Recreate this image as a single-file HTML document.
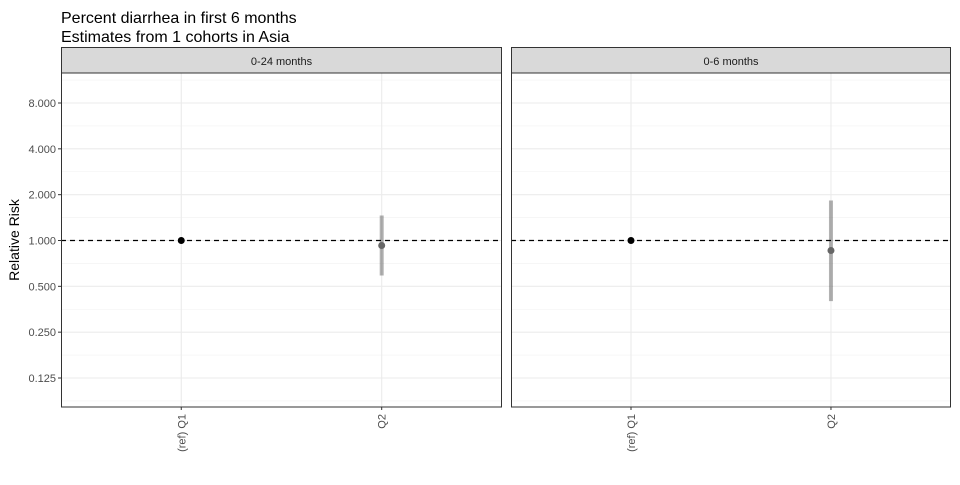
<!DOCTYPE html>
<html><head><meta charset="utf-8"><style>
body{margin:0;background:#fff;font-family:"Liberation Sans",sans-serif;}
svg text{font-family:"Liberation Sans",sans-serif;}
</style></head><body>
<svg id="c" width="960" height="480" xmlns="http://www.w3.org/2000/svg">
<text x="61" y="23" font-size="16">Percent diarrhea in first 6 months</text>
<text x="61" y="42" font-size="16">Estimates from 1 cohorts in Asia</text>
<text transform="translate(19,240) rotate(-90)" text-anchor="middle" font-size="14">Relative Risk</text>
</svg>
<script>
const panels=["0-24 months","0-6 months"];
const categories=["(ref) Q1","Q2"];
const estimates=[[1,0.927],[1,0.86]];
const lower=[[1,0.589],[1,0.40]];
const upper=[[1,1.46],[1,1.83]];
const yTicks=[0.125,0.25,0.5,1,2,4,8];
const yTickLabels=["0.125","0.250","0.500","1.000","2.000","4.000","8.000"];

const svg=document.getElementById('c');
const NS="http://www.w3.org/2000/svg";
function mk(t,a,p){const e=document.createElementNS(NS,t);for(const k in a)e.setAttribute(k,a[k]);(p||svg).appendChild(e);return e;}
const plotTop=73,plotBot=407;
function y(v){return 240.5-Math.log2(v)*45.83;}
const px=[[61,502],[511,951]];
function x(i,pi){const w=px[pi][1]-px[pi][0];return px[pi][0]+w*(0.2727+i*0.4545);}
panels.forEach((p,pi)=>{
  const [l,r]=px[pi];
  const g=mk('g',{});
  
  
  for(let k=0;k<yTicks.length+1;k++){const v=0.125*Math.pow(2,k-0.5);const yy=y(v);if(yy>plotTop&&yy<plotBot){const m=mk('line',{x1:l,x2:r,y1:yy,y2:yy,stroke:'#f2f2f2','stroke-width':0.6},g);
    
    }}
  yTicks.forEach((v,k)=>{const m=mk('line',{x1:l,x2:r,y1:y(v),y2:y(v),stroke:'#ebebeb','stroke-width':1.1},g);
    
    
    if(pi===0){const t=mk('text',{x:l-5,y:y(v)+4,'text-anchor':'end','font-size':11,fill:'#4d4d4d'});t.textContent=yTickLabels[k];
      
      
      mk('line',{x1:l-3,x2:l,y1:y(v),y2:y(v),stroke:'#333'});}});
  categories.forEach((c,i)=>{const xx=x(i,pi);const m=mk('line',{x1:xx,x2:xx,y1:plotTop,y2:plotBot,stroke:'#ebebeb','stroke-width':1.1},g);
    
    
    mk('line',{x1:xx,x2:xx,y1:plotBot,y2:plotBot+3,stroke:'#333'});
    const t=mk('text',{transform:`translate(${xx+4},${plotBot+7}) rotate(-90)`,'text-anchor':'end','font-size':11,fill:'#4d4d4d'});t.textContent=c;
    
    });
  const d=mk('line',{x1:l,x2:r,y1:y(1),y2:y(1),stroke:'#000','stroke-dasharray':'5,4','stroke-width':1.2},g);
  
  
  categories.forEach((c,i)=>{const xx=x(i,pi);
    if(i>0){const e=mk('line',{x1:xx,x2:xx,y1:y(upper[pi][i]),y2:y(lower[pi][i]),stroke:'#000','stroke-opacity':0.3,'stroke-width':4},g);
      
      }
    const pt=mk('circle',{cx:xx,cy:y(estimates[pi][i]),r:3.5,fill:i>0?'#666':'#000'},g);
    
    });
  const b=mk('rect',{x:l+0.5,y:plotTop,width:r-l-1,height:plotBot-plotTop,fill:'none',stroke:'#333','stroke-width':1},g);
  
  
  const s=mk('rect',{x:l+0.5,y:47.5,width:r-l-1,height:plotTop-47.5,fill:'#d9d9d9',stroke:'#333','stroke-width':1},g);
  
  
  const st=mk('text',{x:(l+r)/2,y:65,'text-anchor':'middle','font-size':11,fill:'#1a1a1a'},g);st.textContent=p;
  
  
});
</script>
</body></html>
